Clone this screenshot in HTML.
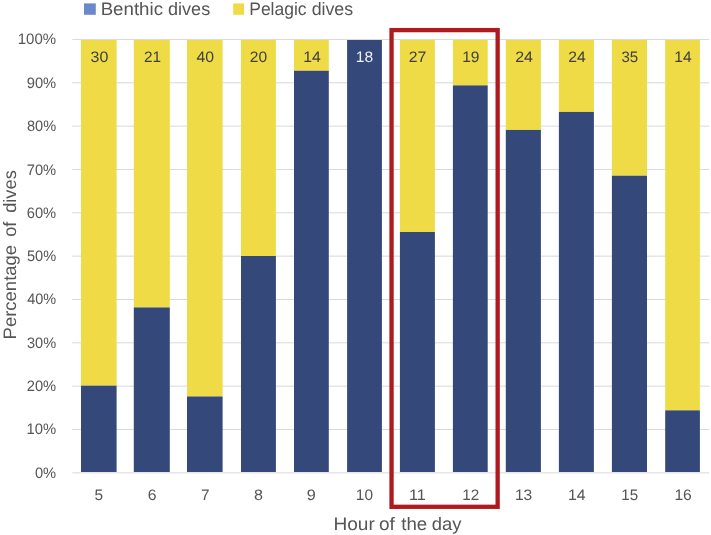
<!DOCTYPE html>
<html><head><meta charset="utf-8"><title>Dives by hour</title>
<style>html,body{margin:0;padding:0;background:#fff;}body{width:711px;height:535px;overflow:hidden;font-family:"Liberation Sans",sans-serif;}</style>
</head><body>
<svg width="711" height="535" viewBox="0 0 711 535" style="display:block" font-family="Liberation Sans, sans-serif">
<rect width="711" height="535" fill="#fff"/>
<line x1="72.3" x2="709.2" y1="472.85" y2="472.85" stroke="#D9D9D9" stroke-width="1"/>
<line x1="72.3" x2="709.2" y1="429.51" y2="429.51" stroke="#D9D9D9" stroke-width="1"/>
<line x1="72.3" x2="709.2" y1="386.17" y2="386.17" stroke="#D9D9D9" stroke-width="1"/>
<line x1="72.3" x2="709.2" y1="342.83" y2="342.83" stroke="#D9D9D9" stroke-width="1"/>
<line x1="72.3" x2="709.2" y1="299.49" y2="299.49" stroke="#D9D9D9" stroke-width="1"/>
<line x1="72.3" x2="709.2" y1="256.15" y2="256.15" stroke="#D9D9D9" stroke-width="1"/>
<line x1="72.3" x2="709.2" y1="212.81" y2="212.81" stroke="#D9D9D9" stroke-width="1"/>
<line x1="72.3" x2="709.2" y1="169.47" y2="169.47" stroke="#D9D9D9" stroke-width="1"/>
<line x1="72.3" x2="709.2" y1="126.13" y2="126.13" stroke="#D9D9D9" stroke-width="1"/>
<line x1="72.3" x2="709.2" y1="82.79" y2="82.79" stroke="#D9D9D9" stroke-width="1"/>
<line x1="72.3" x2="709.2" y1="39.45" y2="39.45" stroke="#D9D9D9" stroke-width="1"/>
<rect x="81.00" y="40.00" width="35.60" height="345.66" fill="#EEDB45"/>
<rect x="81.00" y="385.66" width="35.60" height="86.34" fill="#34497A"/>
<rect x="133.80" y="40.00" width="36.00" height="267.45" fill="#EEDB45"/>
<rect x="133.80" y="307.45" width="36.00" height="164.55" fill="#34497A"/>
<rect x="187.00" y="40.00" width="35.60" height="356.47" fill="#EEDB45"/>
<rect x="187.00" y="396.47" width="35.60" height="75.53" fill="#34497A"/>
<rect x="241.00" y="40.00" width="34.90" height="216.00" fill="#EEDB45"/>
<rect x="241.00" y="256.00" width="34.90" height="216.00" fill="#34497A"/>
<rect x="294.00" y="40.00" width="34.80" height="30.77" fill="#EEDB45"/>
<rect x="294.00" y="70.77" width="34.80" height="401.23" fill="#34497A"/>
<rect x="347.10" y="40.00" width="34.80" height="432.00" fill="#34497A"/>
<rect x="399.90" y="40.00" width="35.00" height="191.99" fill="#EEDB45"/>
<rect x="399.90" y="231.99" width="35.00" height="240.01" fill="#34497A"/>
<rect x="452.90" y="40.00" width="34.80" height="45.39" fill="#EEDB45"/>
<rect x="452.90" y="85.39" width="34.80" height="386.61" fill="#34497A"/>
<rect x="505.80" y="40.00" width="35.10" height="89.94" fill="#EEDB45"/>
<rect x="505.80" y="129.94" width="35.10" height="342.06" fill="#34497A"/>
<rect x="558.90" y="40.00" width="35.00" height="71.93" fill="#EEDB45"/>
<rect x="558.90" y="111.93" width="35.00" height="360.07" fill="#34497A"/>
<rect x="611.90" y="40.00" width="35.10" height="135.73" fill="#EEDB45"/>
<rect x="611.90" y="175.73" width="35.10" height="296.27" fill="#34497A"/>
<rect x="665.20" y="40.00" width="34.70" height="370.36" fill="#EEDB45"/>
<rect x="665.20" y="410.36" width="34.70" height="61.64" fill="#34497A"/>
<g opacity="0.999" text-rendering="geometricPrecision">
<text transform="translate(100.64,15.00) scale(1.0385,1)" font-size="18.0" fill="#555555">Benthic</text>
<text transform="translate(168.04,15.00) scale(1.0026,1)" font-size="18.0" fill="#555555">dives</text>
<text transform="translate(249.23,15.00) scale(0.9713,1)" font-size="18.0" fill="#555555">Pelagic</text>
<text transform="translate(311.64,15.00) scale(0.9879,1)" font-size="18.0" fill="#555555">dives</text>
<text transform="translate(333.41,530.00) scale(1.0608,1)" font-size="18.0" fill="#555555">Hour</text>
<text transform="translate(379.01,530.00) scale(1.0544,1)" font-size="18.0" fill="#555555">of</text>
<text transform="translate(401.20,530.00) scale(1.0373,1)" font-size="18.0" fill="#555555">the</text>
<text transform="translate(431.82,530.00) scale(1.0225,1)" font-size="18.0" fill="#555555">day</text>
<text transform="translate(15.5,337.2) rotate(-90) translate(-2.24,0) scale(1.0275,1)" font-size="18.0" fill="#555555">Percentage</text>
<text transform="translate(15.5,337.2) rotate(-90) translate(100.33,0) scale(1.0062,1)" font-size="18.0" fill="#555555">of</text>
<text transform="translate(15.5,337.2) rotate(-90) translate(124.33,0) scale(1.0148,1)" font-size="18.0" fill="#555555">dives</text>
<text transform="translate(34.94,477.60) scale(0.9648,1)" font-size="15.2" fill="#555555">0%</text>
<text transform="translate(26.47,434.30) scale(0.9752,1)" font-size="15.2" fill="#555555">10%</text>
<text transform="translate(26.71,391.00) scale(0.9673,1)" font-size="15.2" fill="#555555">20%</text>
<text transform="translate(26.94,347.70) scale(0.9595,1)" font-size="15.2" fill="#555555">30%</text>
<text transform="translate(27.17,304.40) scale(0.9518,1)" font-size="15.2" fill="#555555">40%</text>
<text transform="translate(26.94,261.10) scale(0.9595,1)" font-size="15.2" fill="#555555">50%</text>
<text transform="translate(26.71,217.80) scale(0.9673,1)" font-size="15.2" fill="#555555">60%</text>
<text transform="translate(26.71,174.50) scale(0.9673,1)" font-size="15.2" fill="#555555">70%</text>
<text transform="translate(26.94,131.20) scale(0.9595,1)" font-size="15.2" fill="#555555">80%</text>
<text transform="translate(26.71,87.90) scale(0.9673,1)" font-size="15.2" fill="#555555">90%</text>
<text transform="translate(17.76,44.00) scale(0.9874,1)" font-size="15.2" fill="#555555">100%</text>
<text transform="translate(94.62,499.80) scale(1.0187,1)" font-size="15.2" fill="#555555">5</text>
<text transform="translate(90.60,61.90) scale(1.0527,1)" font-size="15.2" fill="#404040">30</text>
<text transform="translate(147.76,499.80) scale(1.0386,1)" font-size="15.2" fill="#555555">6</text>
<text transform="translate(143.88,61.90) scale(1.0142,1)" font-size="15.2" fill="#404040">21</text>
<text transform="translate(200.88,499.80) scale(1.0105,1)" font-size="15.2" fill="#555555">7</text>
<text transform="translate(196.55,61.90) scale(1.0374,1)" font-size="15.2" fill="#404040">40</text>
<text transform="translate(254.00,499.80) scale(1.0594,1)" font-size="15.2" fill="#555555">8</text>
<text transform="translate(249.87,61.90) scale(1.0243,1)" font-size="15.2" fill="#404040">20</text>
<text transform="translate(306.84,499.80) scale(1.0667,1)" font-size="15.2" fill="#555555">9</text>
<text transform="translate(303.21,61.90) scale(1.0399,1)" font-size="15.2" fill="#404040">14</text>
<text transform="translate(355.84,499.80) scale(1.0142,1)" font-size="15.2" fill="#555555">10</text>
<text transform="translate(355.82,61.90) scale(1.0299,1)" font-size="15.2" fill="#EEF1F7">18</text>
<text transform="translate(408.98,499.80) scale(1.0765,1)" font-size="15.2" fill="#555555">11</text>
<text transform="translate(408.76,61.90) scale(1.0399,1)" font-size="15.2" fill="#404040">27</text>
<text transform="translate(462.14,499.80) scale(1.0104,1)" font-size="15.2" fill="#555555">12</text>
<text transform="translate(462.13,61.90) scale(1.0234,1)" font-size="15.2" fill="#404040">19</text>
<text transform="translate(514.92,499.80) scale(1.0299,1)" font-size="15.2" fill="#555555">13</text>
<text transform="translate(515.15,61.90) scale(1.0559,1)" font-size="15.2" fill="#404040">24</text>
<text transform="translate(568.01,499.80) scale(1.0399,1)" font-size="15.2" fill="#555555">14</text>
<text transform="translate(568.26,61.90) scale(1.0369,1)" font-size="15.2" fill="#404040">24</text>
<text transform="translate(621.35,499.80) scale(0.9973,1)" font-size="15.2" fill="#555555">15</text>
<text transform="translate(621.43,61.90) scale(0.9927,1)" font-size="15.2" fill="#404040">35</text>
<text transform="translate(674.42,499.80) scale(1.0299,1)" font-size="15.2" fill="#555555">16</text>
<text transform="translate(674.22,61.90) scale(1.0271,1)" font-size="15.2" fill="#404040">14</text>
</g>
<rect x="84.0" y="3.4" width="11.8" height="11.4" fill="#6B89CA"/>
<rect x="233.2" y="3.4" width="10.9" height="11.4" fill="#EEDB45"/>
<rect x="391.55" y="30.1" width="106.1" height="476.7" fill="none" stroke="#AF1A1E" stroke-width="4.3"/>
</svg>
</body></html>
